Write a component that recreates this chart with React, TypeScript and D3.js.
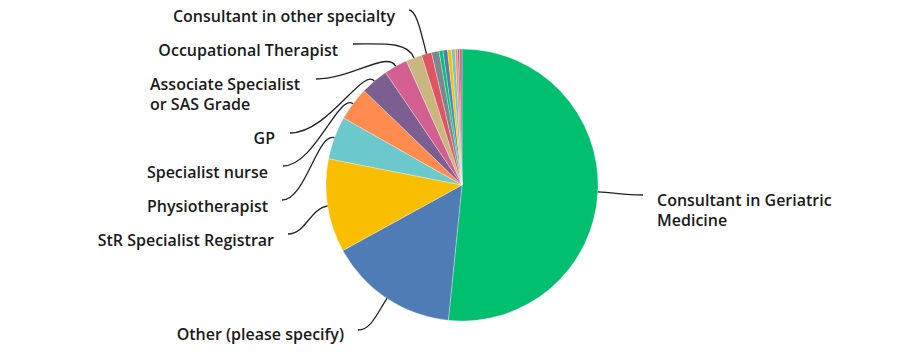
import React from 'react';
import * as d3 from 'd3';

// ---- data ----
const categories = [
  'Consultant in Geriatric Medicine',
  'Other (please specify)',
  'StR Specialist Registrar',
  'Physiotherapist',
  'Specialist nurse',
  'GP',
  'Associate Specialist or SAS Grade',
  'Occupational Therapist',
  'Consultant in other specialty',
  'Unlabelled group 1',
  'Unlabelled group 2',
  'Unlabelled group 3',
  'Unlabelled group 4',
  'Unlabelled group 5',
  'Unlabelled group 6',
  'Unlabelled group 7',
  'Unlabelled group 8',
];
const values = [51.6, 15.4, 11.1, 5.1, 4.0, 3.3, 2.8, 1.9, 1.2, 0.9, 0.45, 0.55, 0.45, 0.45, 0.3, 0.2, 0.3];
const labelLines: string[][] = [
  ['Consultant in Geriatric', 'Medicine'],
  ['Other (please specify)'],
  ['StR Specialist Registrar'],
  ['Physiotherapist'],
  ['Specialist nurse'],
  ['GP'],
  ['Associate Specialist', 'or SAS Grade'],
  ['Occupational Therapist'],
  ['Consultant in other specialty'],
];
const palette = [
  '#00BF6F', '#507CB6', '#F9BE00', '#6BC8CD', '#FF8B4F',
  '#7D5E90', '#D25F90', '#C9B77F', '#DE5463', '#7D868C',
];

// ---- layout (label placement) ----
const W = 903;
const H = 358;
const CX = 462;
const CY = 185;
const R = 136;
const labelLayout = [
  { x: 657, y: 200, anchor: 'start', ax: 643, ay: 195 },
  { x: 344, y: 334, anchor: 'end', ax: 358, ay: 330 },
  { x: 274, y: 240, anchor: 'end', ax: 288, ay: 234 },
  { x: 268, y: 206, anchor: 'end', ax: 282, ay: 200 },
  { x: 268, y: 172, anchor: 'end', ax: 283, ay: 166 },
  { x: 275, y: 138, anchor: 'end', ax: 290, ay: 133 },
  { x: 150, y: 84, anchor: 'start', ax: 316, ay: 79 },
  { x: 338, y: 50, anchor: 'end', ax: 353, ay: 44 },
  { x: 395, y: 16, anchor: 'end', ax: 409, ay: 10 },
];

export default function App() {
  const pie = d3.pie<number>().sort(null).value((d) => d);
  const arcs = pie(values);
  const arcGen = d3.arc<d3.PieArcDatum<number>>().innerRadius(0).outerRadius(R);

  const leader = (a: d3.PieArcDatum<number>, i: number) => {
    const L = labelLayout[i];
    const mid = (a.startAngle + a.endAngle) / 2;
    const sx = Math.sin(mid);
    const sy = -Math.cos(mid);
    const ex = CX + R * sx;
    const ey = CY + R * sy;
    const p2x = CX + (R + 18) * sx;
    const p2y = CY + (R + 18) * sy;
    const p1x = L.ax + 0.45 * (ex - L.ax);
    const p1y = L.ay;
    const p = d3.path();
    p.moveTo(L.ax, L.ay);
    p.bezierCurveTo(p1x, p1y, p2x, p2y, ex, ey);
    return p.toString();
  };

  return (
    <div style={{ position: 'absolute', left: 0, top: 0 }}>
      <svg width={W} height={H} style={{ display: 'block', background: '#fff' }}>
        <g transform={`translate(${CX},${CY})`}>
          {arcs.map((a, i) => (
            <path
              key={categories[i]}
              d={arcGen(a) || ''}
              fill={palette[i % palette.length]}
              stroke="#ffffff"
              strokeWidth={0.5}
              strokeOpacity={0.6}
            />
          ))}
        </g>
        {labelLines.map((lines, i) => (
          <path
            key={'l' + i}
            d={leader(arcs[i], i)}
            fill="none"
            stroke="#222"
            strokeWidth={1.3}
          />
        ))}
        {labelLines.map((lines, i) => {
          const L = labelLayout[i];
          return (
            <text
              key={'t' + i}
              x={L.x}
              y={L.y}
              textAnchor={L.anchor}
              fontFamily="'Open Sans', sans-serif"
              fontWeight={600}
              fontSize={16}
              fill="#1a1a1a"
            >
              {lines.map((ln, j) => (
                <tspan key={j} x={L.x} y={L.y + j * 20} dy="0.35em">
                  {ln}
                </tspan>
              ))}
            </text>
          );
        })}
      </svg>
    </div>
  );
}
